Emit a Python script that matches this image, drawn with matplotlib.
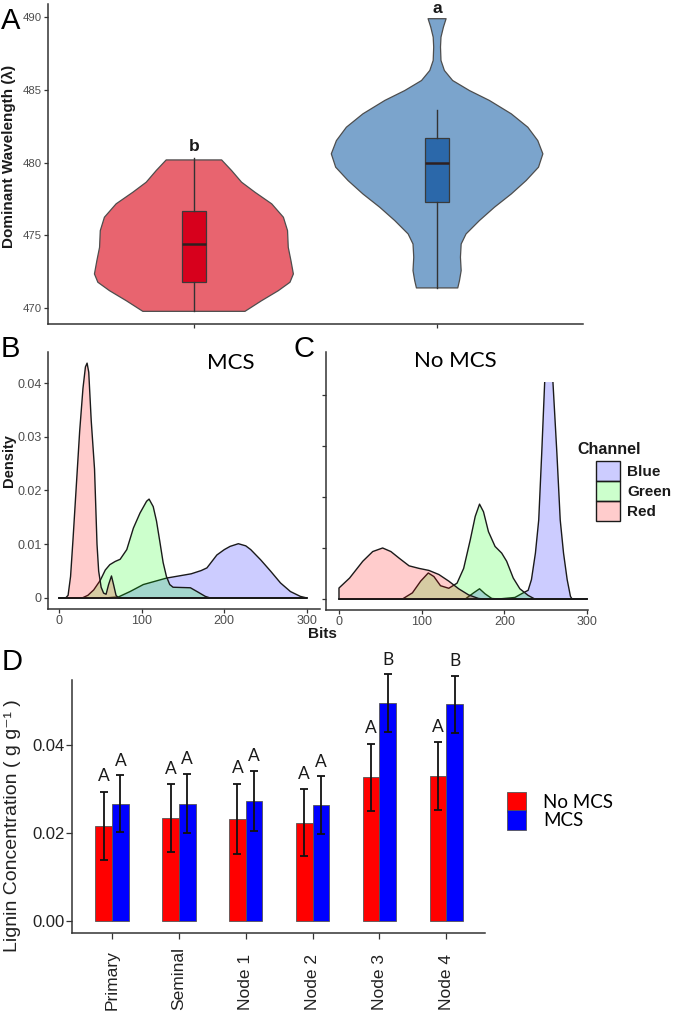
import numpy as np
import matplotlib
matplotlib.use("Agg")
import matplotlib.pyplot as plt
from matplotlib.patches import Patch, Rectangle
import matplotlib.transforms as mtransforms

plt.rcParams['font.family'] = ['Liberation Sans', 'DejaVu Sans']

# ---------------- data ----------------
# panel A: violin outlines (value, half width)
red_violin_y = [480.18, 479.45, 478.65, 477.96, 477.16, 476.24, 475.32, 474.17,
                473.26, 472.34, 471.77, 471.19, 470.50, 469.77]
red_violin_w = [0.114, 0.155, 0.196, 0.251, 0.320, 0.368, 0.385, 0.388,
                0.399, 0.409, 0.395, 0.347, 0.278, 0.210]
blue_violin_y = [489.89, 489.31, 488.62, 487.94, 487.02, 486.33, 485.64, 484.95,
                 484.27, 483.35, 482.43, 481.51, 480.60, 479.68, 478.76, 477.84,
                 476.93, 476.01, 475.09, 474.40, 473.49, 472.57, 471.88, 471.38]
blue_violin_w = [0.037, 0.026, 0.016, 0.014, 0.016, 0.030, 0.064, 0.133,
                 0.215, 0.305, 0.373, 0.414, 0.435, 0.417, 0.366, 0.305,
                 0.236, 0.174, 0.119, 0.099, 0.096, 0.099, 0.092, 0.085]
# box stats: whisker low, q1, median, q3, whisker high
red_box = [469.8, 471.8, 474.4, 476.7, 480.3]
blue_box = [471.4, 477.3, 480.0, 481.7, 483.6]
violin_letters = ['b', 'a']
violin_letter_y = [481.07, 490.6]

# panel B (MCS) densities
mcs_red_x = [0, 8, 11, 14, 17, 21, 25, 29, 32, 34, 36, 39, 43, 46, 48, 51, 54, 57,
             60, 63.5, 66, 69, 72, 300]
mcs_red_y = [0, 0, 0.0005, 0.004, 0.011, 0.021, 0.031, 0.039, 0.043, 0.0437, 0.042,
             0.033, 0.024, 0.010, 0.005, 0.002, 0.0009, 0.0007, 0.0025, 0.0041,
             0.0025, 0.0005, 0, 0]
mcs_green_x = [0, 28, 35, 42, 50, 56, 61.5, 68, 74, 82, 90, 98, 106, 109, 114, 118,
               122, 126, 130, 134, 138, 159, 167, 177, 183, 300]
mcs_green_y = [0, 0, 0.0005, 0.0015, 0.0033, 0.0052, 0.0062, 0.0068, 0.0072, 0.0090,
               0.0130, 0.0158, 0.0180, 0.0184, 0.0170, 0.0143, 0.0105, 0.0066,
               0.0040, 0.0025, 0.0020, 0.0019, 0.0012, 0.0003, 0, 0]
mcs_blue_x = [0, 55, 72, 86, 102, 116, 130, 145, 160, 172, 179, 191, 200, 207, 217,
              226, 232, 244, 256, 268, 280, 292, 300]
mcs_blue_y = [0, 0, 0.0002, 0.0012, 0.0025, 0.0031, 0.0037, 0.0041, 0.0045, 0.0051,
              0.0056, 0.0080, 0.0090, 0.0096, 0.0101, 0.0097, 0.0090, 0.0071, 0.0050,
              0.0028, 0.0012, 0.0003, 0]

# panel C (No MCS) densities
no_red_x = [0, 0, 12.8, 28.8, 40.8, 52.8, 62.8, 72.8, 84.8, 96.8, 108.8, 120.8,
            132.8, 144.8, 156.8, 168.8, 175, 300]
no_red_y = [0, 0.00215, 0.0041, 0.0074, 0.0093, 0.0100, 0.0093, 0.0080, 0.0065,
            0.0060, 0.0056, 0.0048, 0.0035, 0.0020, 0.0008, 0.0001, 0, 0]
no_green_x = [0, 76.8, 88.8, 98.8, 108, 114.8, 122.8, 132.8, 142.8, 150.8, 158.8,
              164.8, 170, 174.8, 180.8, 188.8, 196.8, 202.8, 210.8, 218.8, 228.8,
              236.8, 300]
no_green_y = [0, 0, 0.0012, 0.0035, 0.0051, 0.0044, 0.0026, 0.0021, 0.0031, 0.0060,
              0.0116, 0.0162, 0.0186, 0.0171, 0.0132, 0.0103, 0.0090, 0.0074,
              0.0041, 0.0020, 0.0007, 0, 0]
no_blue_x = [0, 152.8, 162.8, 170, 176.8, 184.8, 192.8, 212.8, 222.8, 228.8, 232.8,
             237.6, 241.6, 245.2, 248.8, 253.8, 258.8, 263.6, 267.6, 271.6, 276,
             280, 282, 300]
no_blue_y = [0, 0, 0.0012, 0.0020, 0.0010, 0.0001, 0, 0.0003, 0.0012, 0.0017, 0.0038,
             0.0090, 0.0155, 0.0285, 0.0425, 0.058, 0.0425, 0.0285, 0.0155, 0.0090,
             0.0038, 0.0005, 0, 0]
channels = ['Blue', 'Green', 'Red']

# panel D: lignin concentration
categories = ['Primary', 'Seminal', 'Node 1', 'Node 2', 'Node 3', 'Node 4']
no_mcs = [0.0217, 0.0234, 0.0232, 0.0224, 0.0327, 0.0329]
no_mcs_err = [0.0077, 0.0077, 0.0080, 0.0076, 0.0076, 0.0077]
mcs = [0.0267, 0.0267, 0.0273, 0.0263, 0.0495, 0.0493]
mcs_err = [0.0064, 0.0067, 0.0068, 0.0066, 0.0066, 0.0065]
no_mcs_letters = ['A', 'A', 'A', 'A', 'A', 'A']
mcs_letters = ['A', 'A', 'A', 'A', 'B', 'B']

# ---------------- figure ----------------
W, H = 677, 1015
fig = plt.figure(figsize=(W / 100, H / 100), dpi=100)


def fx(px):
    return px / W


def fy(py):
    return 1 - py / H


def box(x0, y0, x1, y1):
    return [fx(x0), fy(y1), (x1 - x0) / W, (y1 - y0) / H]


grey_txt = '#4D4D4D'
axA = fig.add_axes(box(48, 4, 583, 324))
axB = fig.add_axes(box(48, 352, 320, 609))
axC = fig.add_axes(box(326, 352, 588, 610))
axD = fig.add_axes(box(72, 680, 485, 933))

for ax in (axA, axB, axC, axD):
    ax.spines['top'].set_visible(False)
    ax.spines['right'].set_visible(False)
    for s in ('left', 'bottom'):
        ax.spines[s].set_color('#333333')
        ax.spines[s].set_linewidth(1.1)
    ax.tick_params(colors='#333333', length=3, width=0.9, pad=1.5,
                   labelcolor=grey_txt)

# ---- panel A ----
for pos, yv, wv, fc in [(1, red_violin_y, red_violin_w, '#E8646F'),
                        (2, blue_violin_y, blue_violin_w, '#7BA4CC')]:
    yv = np.array(yv)
    wv = np.array(wv)
    axA.fill(np.concatenate([pos - wv, (pos + wv)[::-1]]),
             np.concatenate([yv, yv[::-1]]),
             facecolor=fc, edgecolor='#4D4D4D', linewidth=0.9,
             joinstyle='round')

stats = []
for b in (red_box, blue_box):
    stats.append(dict(whislo=b[0], q1=b[1], med=b[2], q3=b[3], whishi=b[4],
                      fliers=[]))
bp = axA.bxp(stats, positions=[1, 2], widths=0.1, patch_artist=True,
             showcaps=False, showfliers=False, manage_ticks=False,
             whiskerprops=dict(color='#333333', linewidth=1.0),
             medianprops=dict(color='#2E2020', linewidth=1.8),
             boxprops=dict(edgecolor='#3A3A3A', linewidth=0.9))
for patch, fc in zip(bp['boxes'], ['#D7001C', '#2B68AA']):
    patch.set_facecolor(fc)

for pos, lab, yy in zip([1, 2], violin_letters, violin_letter_y):
    axA.text(pos, yy, lab, ha='center', va='center', fontsize=12.5,
             fontweight='bold', color='#1A1A1A', clip_on=False)

axA.set_xlim(0.4, 2.6)
axA.set_ylim(468.9, 490.9)
axA.set_yticks([470, 475, 480, 485, 490])
axA.set_xticks([1, 2])
axA.set_xticklabels([])
axA.tick_params(axis='y', labelsize=8.2)
axA.set_ylabel('Dominant Wavelength (λ)', fontsize=11, fontweight='bold',
               color='#1A1A1A', va='center')
axA.yaxis.set_label_coords(-0.073, 0.525)

# ---- panels B and C ----
fills = {'Blue': (0, 0, 1, 0.2), 'Green': (0, 1, 0, 0.2), 'Red': (1, 0, 0, 0.2)}
series_B = {'Blue': (mcs_blue_x, mcs_blue_y), 'Green': (mcs_green_x, mcs_green_y),
            'Red': (mcs_red_x, mcs_red_y)}
series_C = {'Blue': (no_blue_x, no_blue_y), 'Green': (no_green_x, no_green_y),
            'Red': (no_red_x, no_red_y)}

for ax, series in ((axB, series_B), (axC, series_C)):
    for ch in channels:
        xs, ys = series[ch]
        polys = ax.fill(xs, ys, facecolor=fills[ch], edgecolor='#1A1A1A',
                        linewidth=1.0, joinstyle='round')
        if ax is axC:
            clip = Rectangle((-20, -0.01), 400, 0.05255, transform=ax.transData)
            for p in polys:
                p.set_clip_path(clip)
    ax.set_xticks([0, 100, 200, 300])
    ax.set_yticks([0, 0.01, 0.02, 0.03, 0.04])
    ax.tick_params(labelsize=9)

axB.set_xlim(-13.3, 315.8)
axB.set_ylim(-0.00205, 0.04577)
axB.set_yticklabels(['0', '0.01', '0.02', '0.03', '0.04'])
axB.set_ylabel('Density', fontsize=10.5, fontweight='bold', color='#1A1A1A',
               va='center')
axB.yaxis.set_label_coords(-0.143, 0.576)

axC.set_xlim(-15.7, 301.2)
axC.set_ylim(-0.00216, 0.04843)
axC.set_yticklabels([])

axB.text(208, 0.0437, 'MCS', fontsize=16, family='Lato', ha='center',
         va='center', transform=axB.transData)
fig.text(fx(455), fy(361), 'No MCS', fontsize=16, family='Lato', ha='center',
         va='center')
fig.text(fx(322), fy(634), 'Bits', fontsize=11, fontweight='bold',
         color='#1A1A1A', ha='center', va='center')

fig.text(fx(577), fy(450), 'Channel', fontsize=11.5, fontweight='bold',
         color='#1A1A1A', ha='left', va='center')
ch_handles = [Patch(facecolor=fills[ch], edgecolor='#1A1A1A', linewidth=1.0)
              for ch in channels]
legC = fig.legend(ch_handles, channels, loc='upper left',
                  bbox_to_anchor=(fx(596), fy(461)), frameon=False,
                  borderpad=0, borderaxespad=0, labelspacing=0,
                  handlelength=1.6, handleheight=1.64, handletextpad=0.45,
                  prop=dict(size=11, weight='bold'))
for t in legC.get_texts():
    t.set_color('#1A1A1A')

# ---- panel D ----
pos = np.arange(1, len(categories) + 1)
bw = 0.25
err_kw = dict(elinewidth=1.3, capthick=1.3, ecolor='#111111')
b1 = axD.bar(pos - bw / 2, no_mcs, bw, yerr=no_mcs_err, capsize=2.6,
             color='#FF0000', edgecolor='#555555', linewidth=0.6,
             error_kw=err_kw, label='No MCS')
b2 = axD.bar(pos + bw / 2, mcs, bw, yerr=mcs_err, capsize=2.6,
             color='#0000FF', edgecolor='#555555', linewidth=0.6,
             error_kw=err_kw, label='MCS')

for i in range(len(categories)):
    axD.text(pos[i] - bw / 2, no_mcs[i] + no_mcs_err[i] + 0.0024,
             no_mcs_letters[i], ha='center', va='baseline', fontsize=12.5,
             family='Lato', color='#1A1A1A')
    axD.text(pos[i] + bw / 2, mcs[i] + mcs_err[i] + 0.0022,
             mcs_letters[i], ha='center', va='baseline', fontsize=12.5,
             family='Lato', color='#1A1A1A')

axD.set_xlim(0.4, 6.58)
axD.set_ylim(-0.0027, 0.0548)
axD.set_yticks([0.0, 0.02, 0.04])
axD.set_yticklabels(['0.00', '0.02', '0.04'])
axD.set_xticks(pos)
axD.set_xticklabels([])
axD.tick_params(labelsize=12, labelcolor='#222222', length=4)
for art in axD.get_children():
    art.set_clip_on(False)

xt = mtransforms.blended_transform_factory(axD.transData, axD.transAxes)
for p, lab in zip(pos, categories):
    axD.text(p, -0.304, lab, rotation=90, ha='center', va='bottom',
             fontsize=12.5, color='#222222', transform=xt)

axD.set_ylabel('Lignin Concentration ( g g⁻¹ )', fontsize=14, color='#222222',
               va='center')
axD.yaxis.set_label_coords(-0.143, 0.423)

legD = fig.legend(handles=[b1, b2], labels=['No MCS', 'MCS'], loc='upper left',
                  bbox_to_anchor=(fx(507), fy(792)), frameon=False,
                  borderpad=0, borderaxespad=0, labelspacing=-0.12,
                  handlelength=1.01, handleheight=1.27, handletextpad=0.9,
                  prop=dict(size=13.5, family='Lato'))

# panel letters
for lab, x, y in [('A', 11, 21), ('B', 10, 349), ('C', 304, 349), ('D', 12, 662)]:
    fig.text(fx(x), fy(y), lab, fontsize=21, ha='center', va='center',
             color='black')

fig.savefig('out.png', dpi=100)
